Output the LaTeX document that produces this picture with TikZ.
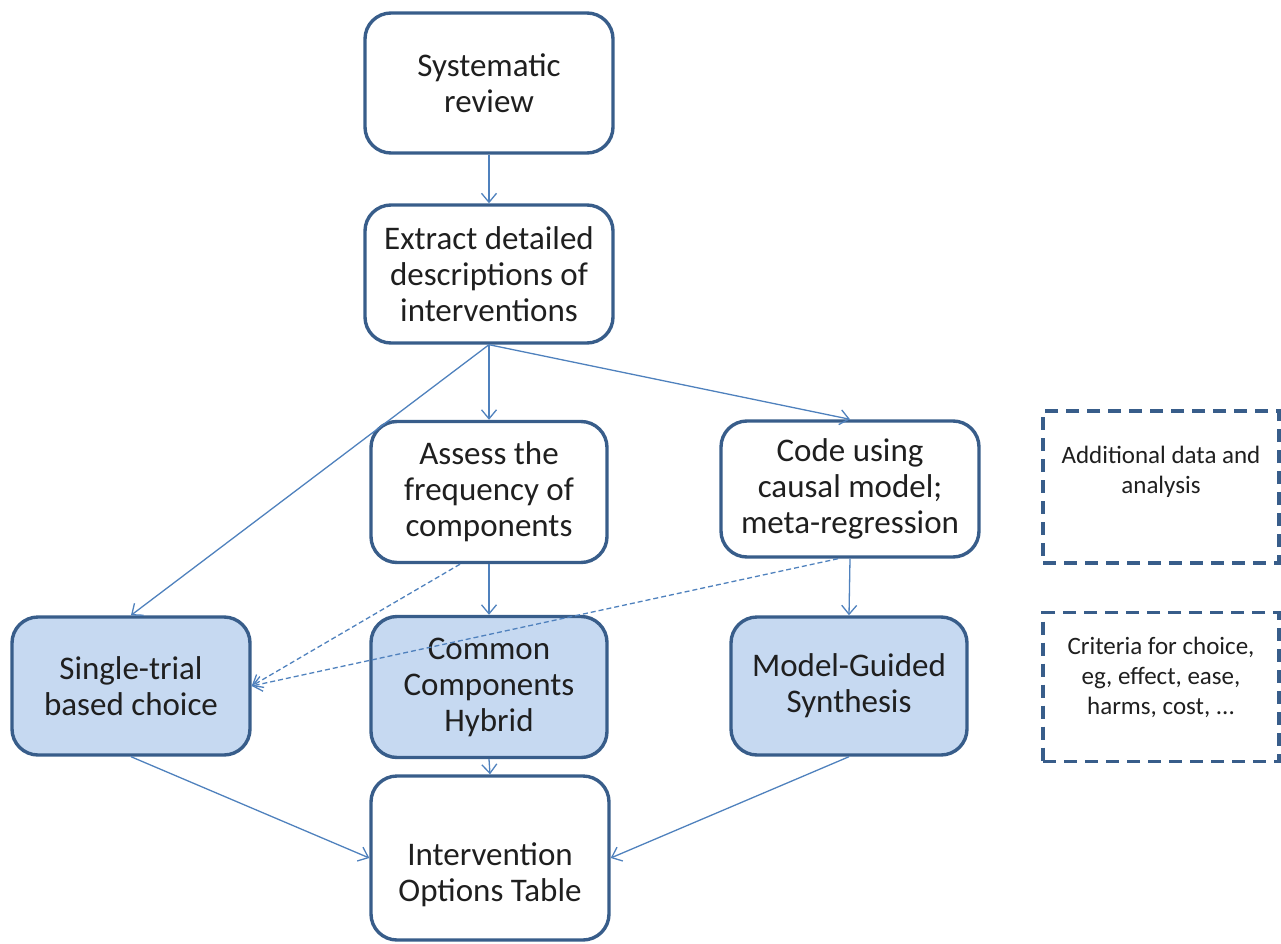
\documentclass[tikz,border=0pt]{standalone}
\usepackage{fontspec}
\setmainfont{Carlito}
\usetikzlibrary{arrows.meta,calc}
\definecolor{bord}{HTML}{385D8A}
\definecolor{fillb}{HTML}{C6D9F1}
\definecolor{conn}{HTML}{4F81BD}
\tikzset{
  box/.style={draw=bord, line width=3.4pt, rounded corners=26pt, align=center,
    font=\fontsize{33}{36}\selectfont, text=black!88, inner sep=0pt},
  solidbox/.style={box, fill=fillb},
  dbox/.style={draw=bord, line width=3.6pt, dash pattern=on 13pt off 8pt, inner sep=0pt},
  dtext/.style={align=center, font=\fontsize{25}{30}\selectfont, text=black!88},
  plain/.style={align=center, font=\fontsize{33}{36}\selectfont, text=black!88},
  conn/.style={draw=conn, line width=1.3pt, -{Straight Barb[length=9pt,width=15pt,line width=1.3pt]}},
  dconn/.style={conn, dash pattern=on 5pt off 3pt}
}
\begin{document}
\begin{tikzpicture}[x=1pt,y=-1pt]
\useasboundingbox (0,0) rectangle (1281,944);
\node[box, minimum width=248pt, minimum height=140pt] (SR) at (489,83) {Systematic\\review};
\node[box, minimum width=248pt, minimum height=138pt] (EX) at (489,274) {Extract detailed\\descriptions of\\interventions};
\node[box, minimum width=236pt, minimum height=141pt] (AS) at (489,492) {Assess the\\frequency of\\components};
\node[box, minimum width=258pt, minimum height=136pt] (CO) at (850,489) {Code using\\causal model;\\meta-regression};
\node[solidbox, minimum width=238pt, minimum height=138pt] (ST) at (131,686) {Single-trial\\based choice};
\node[solidbox, minimum width=236pt, minimum height=141pt] (CC) at (489,687) {Common\\Components\\Hybrid};
\node[solidbox, minimum width=236pt, minimum height=138pt] (MG) at (849,686) {Model-Guided\\Synthesis};
\node[box, minimum width=238pt, minimum height=164pt] (IO) at (490,858) {};
\node[plain] (IOt) at (490,875) {Intervention\\Options Table};
\node[dbox, minimum width=236pt, minimum height=152pt] (D1) at (1161,487) {};
\node[dtext] (D1t) at (1161,472) {Additional data and\\analysis};
\node[dbox, minimum width=236pt, minimum height=149pt] (D2) at (1161,687) {};
\node[dtext] (D2t) at (1161,677) {Criteria for choice,\\eg, effect, ease,\\harms, cost, ...};

\draw[conn] (SR.south) -- (EX.north);
\draw[conn] (EX.south) -- (AS.north);
\draw[conn] (EX.south) -- (ST.north);
\draw[conn] (EX.south) -- (CO.north);
\draw[conn] (AS.south) -- (CC.north);
\draw[conn] (CO.south) -- (MG.north);
\draw[dconn] ($(AS.south)+(-29,0)$) -- (ST.east);
\draw[dconn] ($(CO.south)+(-12,0)$) -- (ST.east);
\draw[conn] (ST.south) -- (IO.west);
\draw[conn] (CC.south) -- (IO.north);
\draw[conn] (MG.south) -- (IO.east);
\end{tikzpicture}
\end{document}
